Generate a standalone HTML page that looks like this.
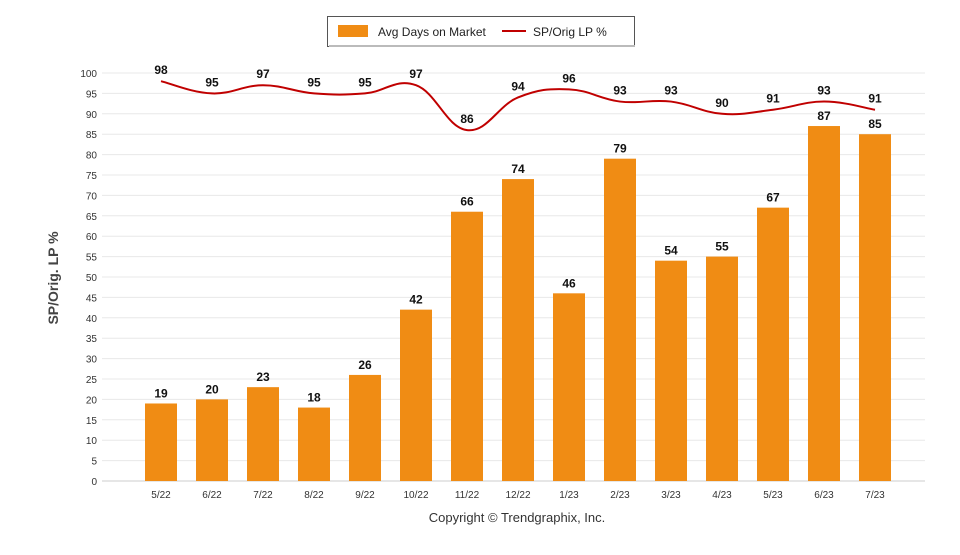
<!DOCTYPE html>
<html><head><meta charset="utf-8"><style>
body{margin:0;background:#fff;font-family:"Liberation Sans",Arial,sans-serif}
</style></head><body>
<svg id="chart" width="960" height="550" xmlns="http://www.w3.org/2000/svg" font-family="Liberation Sans, Arial, sans-serif">
<g>
<rect x="327.5" y="16.5" width="307" height="30" fill="#fff" stroke="#555" stroke-width="1"/>
<rect x="329" y="45" width="306" height="2" fill="#bbb"/>
<rect x="338" y="25" width="30" height="12" fill="#f08c14"/>
<text x="378" y="36" font-size="12" fill="#222">Avg Days on Market</text>
<line x1="502" y1="31" x2="526" y2="31" stroke="#c00000" stroke-width="2"/>
<text x="533" y="36" font-size="12" fill="#222">SP/Orig LP %</text>
</g>
<text transform="translate(58,278) rotate(-90)" text-anchor="middle" font-size="14" font-weight="bold" fill="#444">SP/Orig. LP %</text>
<text x="517" y="522" text-anchor="middle" font-size="13" fill="#333">Copyright © Trendgraphix, Inc.</text>
<g id="grid"></g><g id="bars"></g><g id="line"></g><g id="labels"></g>
</svg>
<script>
const categories=["5/22","6/22","7/22","8/22","9/22","10/22","11/22","12/22","1/23","2/23","3/23","4/23","5/23","6/23","7/23"];
const daysOnMarket=[19,20,23,18,26,42,66,74,46,79,54,55,67,87,85];
const spOrigLP=[98,95,97,95,95,97,86,94,96,93,93,90,91,93,91];
const yTicks=[0,5,10,15,20,25,30,35,40,45,50,55,60,65,70,75,80,85,90,95,100];
const NS="http://www.w3.org/2000/svg";
const y0=481,y100=73,left=102,right=925;
const yS=v=>y0-(y0-y100)*v/100;
const xS=i=>161+51*i;
function mk(t,a,p){const e=document.createElementNS(NS,t);for(const k in a)e.setAttribute(k,a[k]);p.appendChild(e);return e;}
const grid=document.getElementById('grid');
yTicks.forEach(v=>{
 const l=mk('line',{x1:left,x2:right,y1:yS(v),y2:yS(v),stroke:v===0?'#ccc':'#e8e8e8','stroke-width':1},grid);
 
 
 const t=mk('text',{x:97,y:yS(v)+4,'text-anchor':'end','font-size':10,fill:'#333'},grid);
 t.textContent=v;
 
 
});
const bars=document.getElementById('bars'),labels=document.getElementById('labels');
categories.forEach((c,i)=>{
 const b=mk('rect',{x:xS(i)-16,y:yS(daysOnMarket[i]),width:32,height:y0-yS(daysOnMarket[i]),fill:'#f08c14'},bars);
 
 
 const bl=mk('text',{x:xS(i),y:yS(daysOnMarket[i])-6,'text-anchor':'middle','font-size':12,'font-weight':'bold',fill:'#111'},labels);
 bl.textContent=daysOnMarket[i];
 
 
 const ll=mk('text',{x:xS(i),y:yS(spOrigLP[i])-7,'text-anchor':'middle','font-size':12,'font-weight':'bold',fill:'#111'},labels);
 ll.textContent=spOrigLP[i];
 
 
 const xt=mk('text',{x:xS(i),y:498,'text-anchor':'middle','font-size':10,fill:'#333'},labels);
 xt.textContent=c;
 
 
});
const pts=spOrigLP.map((v,i)=>[xS(i),yS(v)]);
let d='M'+pts[0][0]+','+pts[0][1];
for(let i=0;i<pts.length-1;i++){
 const p0=pts[Math.max(0,i-1)],p1=pts[i],p2=pts[i+1],p3=pts[Math.min(pts.length-1,i+2)];
 const t=0.2;
 d+=` C${p1[0]+(p2[0]-p0[0])*t},${p1[1]+(p2[1]-p0[1])*t} ${p2[0]-(p3[0]-p1[0])*t},${p2[1]-(p3[1]-p1[1])*t} ${p2[0]},${p2[1]}`;
}
const ln=mk('path',{d:d,fill:'none',stroke:'#c00000','stroke-width':2},document.getElementById('line'));


</script>
</body></html>
